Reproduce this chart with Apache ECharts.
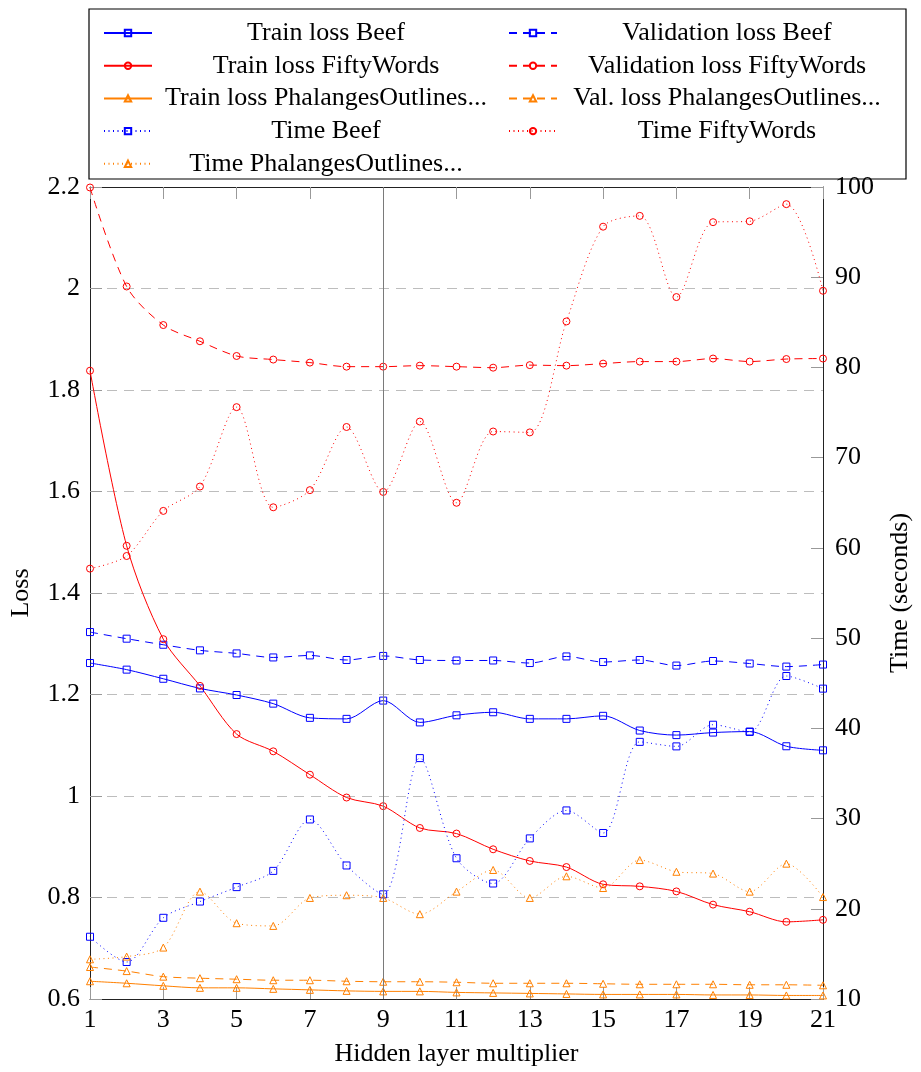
<!DOCTYPE html>
<html lang="en">
<head>
    <meta charset="utf-8"/>
    <title>Loss and time vs hidden layer multiplier</title>
    <script src="https://cdn.jsdelivr.net/npm/echarts@6/dist/echarts.min.js"></script>
    <style>
        body { margin: 0; background: #fff; }
        #main { width: 921px; height: 1072px; }
    </style>
</head>
<body>
<div id="main"></div>
<script>
    // x categories (hidden layer multiplier)
    var xCats = ['1', '2', '3', '4', '5', '6', '7', '8', '9', '10', '11', '12', '13', '14', '15', '16', '17', '18', '19', '20', '21'];

    // loss values (left axis)
    var trainLossBeef = [1.262, 1.249, 1.231, 1.212, 1.199, 1.182, 1.154, 1.152, 1.188, 1.145, 1.159, 1.165, 1.152, 1.152, 1.158, 1.129, 1.120, 1.125, 1.127, 1.098, 1.090];
    var valLossBeef = [1.323, 1.310, 1.298, 1.287, 1.281, 1.273, 1.277, 1.268, 1.276, 1.268, 1.267, 1.267, 1.262, 1.275, 1.264, 1.268, 1.257, 1.266, 1.261, 1.255, 1.259];
    var trainLossFifty = [1.838, 1.493, 1.309, 1.217, 1.122, 1.088, 1.042, 0.997, 0.980, 0.937, 0.926, 0.895, 0.872, 0.860, 0.826, 0.822, 0.812, 0.786, 0.772, 0.752, 0.756];
    var valLossFifty = [2.199, 2.004, 1.928, 1.896, 1.867, 1.860, 1.854, 1.846, 1.846, 1.848, 1.846, 1.844, 1.849, 1.848, 1.852, 1.856, 1.856, 1.862, 1.856, 1.861, 1.862];
    var trainLossPhal = [0.635, 0.631, 0.626, 0.622, 0.622, 0.620, 0.618, 0.616, 0.615, 0.615, 0.613, 0.612, 0.611, 0.610, 0.609, 0.609, 0.609, 0.608, 0.608, 0.607, 0.607];
    var valLossPhal = [0.663, 0.655, 0.644, 0.641, 0.639, 0.637, 0.637, 0.635, 0.634, 0.634, 0.633, 0.631, 0.631, 0.631, 0.630, 0.629, 0.629, 0.629, 0.628, 0.628, 0.627];

    // time values in seconds (right axis)
    var timeBeef = [16.9, 14.1, 19.0, 20.8, 22.4, 24.2, 29.9, 24.8, 21.6, 36.7, 25.6, 22.8, 27.8, 30.9, 28.4, 38.5, 38.0, 40.4, 39.6, 45.8, 44.4];
    var timeFifty = [57.7, 59.1, 64.1, 66.8, 75.6, 64.5, 66.4, 73.4, 66.2, 74.0, 65.0, 72.9, 72.8, 85.1, 95.6, 96.8, 87.8, 96.1, 96.2, 98.1, 88.5];
    var timePhal = [14.4, 14.7, 15.7, 21.9, 18.4, 18.1, 21.2, 21.5, 21.2, 19.4, 21.9, 24.3, 21.2, 23.6, 22.3, 25.4, 24.1, 23.9, 21.9, 25.0, 21.3];

    var legendLeft = ['Train loss Beef', 'Train loss FiftyWords', 'Train loss PhalangesOutlines...', 'Time Beef', 'Time PhalangesOutlines...'];
    var legendRight = ['Validation loss Beef', 'Validation loss FiftyWords', 'Val. loss PhalangesOutlines...', 'Time FiftyWords'];

    var BLUE = '#0000ff', RED = '#ff0000', ORANGE = '#ff8000';
    var FONT = 'Liberation Serif';
    var DASH = [8, 6], DOT = [1, 3.5];

    function mkSeries(name, data, color, symbol, dash, yIndex) {
        return {
            name: name,
            type: 'line',
            data: data,
            yAxisIndex: yIndex,
            smooth: 0.3,
            symbol: symbol,
            symbolSize: 7,
            showAllSymbol: true,
            lineStyle: {color: color, width: 1, type: dash},
            itemStyle: {color: 'none', borderColor: color, borderWidth: 1},
            emphasis: {disabled: true}
        };
    }

    var series = [
        mkSeries('Train loss Beef', trainLossBeef, BLUE, 'rect', 'solid', 0),
        mkSeries('Validation loss Beef', valLossBeef, BLUE, 'rect', DASH, 0),
        mkSeries('Train loss FiftyWords', trainLossFifty, RED, 'circle', 'solid', 0),
        mkSeries('Validation loss FiftyWords', valLossFifty, RED, 'circle', DASH, 0),
        mkSeries('Train loss PhalangesOutlines...', trainLossPhal, ORANGE, 'triangle', 'solid', 0),
        mkSeries('Val. loss PhalangesOutlines...', valLossPhal, ORANGE, 'triangle', DASH, 0),
        mkSeries('Time Beef', timeBeef, BLUE, 'rect', DOT, 1),
        mkSeries('Time FiftyWords', timeFifty, RED, 'circle', DOT, 1),
        mkSeries('Time PhalangesOutlines...', timePhal, ORANGE, 'triangle', DOT, 1)
    ];

    // vertical marker at x = 9
    series[0].markLine = {
        silent: true,
        symbol: 'none',
        label: {show: false},
        lineStyle: {color: '#7a7a7a', width: 1, type: 'solid'},
        data: [{xAxis: '9'}]
    };

    function mkLegend(names, left, colWidth) {
        return {
            orient: 'vertical',
            left: left,
            top: 15,
            itemWidth: 48,
            itemHeight: 8,
            itemGap: 6.7,
            selectedMode: false,
            data: names,
            formatter: function (name) {
                return '{c|' + name + '}';
            },
            textStyle: {
                fontFamily: FONT,
                fontSize: 26,
                color: '#000',
                rich: {c: {width: colWidth, align: 'center', fontFamily: FONT, fontSize: 26, lineHeight: 26}}
            }
        };
    }

    var axisLineStyle = {lineStyle: {color: '#222', width: 1}};
    var tickStyle = {show: true, inside: true, length: 12, lineStyle: {color: '#999', width: 1}};
    var labelStyle = {fontFamily: FONT, fontSize: 26, color: '#000'};

    var chart = echarts.init(document.getElementById('main'));
    var option = {
        animation: false,
        backgroundColor: '#fff',
        grid: {left: 89, right: 95, top: 187, bottom: 68, containLabel: false},
        legend: [mkLegend(legendLeft, 98, 338), mkLegend(legendRight, 503, 330)],
        graphic: [{
            type: 'rect',
            shape: {x: 89, y: 9, width: 817, height: 170},
            style: {fill: 'none', stroke: '#000', lineWidth: 1.2},
            silent: true
        }],
        xAxis: [{
            type: 'category',
            data: xCats,
            boundaryGap: false,
            position: 'bottom',
            axisLine: axisLineStyle,
            axisTick: Object.assign({interval: 1, alignWithLabel: true}, tickStyle),
            axisLabel: Object.assign({interval: 1, margin: 8}, labelStyle),
            splitLine: {show: false},
            name: 'Hidden layer multiplier',
            nameLocation: 'middle',
            nameGap: 42,
            nameTextStyle: labelStyle
        }, {
            type: 'category',
            data: xCats,
            boundaryGap: false,
            position: 'top',
            axisLine: axisLineStyle,
            axisTick: Object.assign({interval: 1}, tickStyle),
            axisLabel: {show: false},
            splitLine: {show: false}
        }],
        yAxis: [{
            type: 'value',
            position: 'left',
            min: 0.6,
            max: 2.2,
            interval: 0.2,
            axisLine: Object.assign({show: true}, axisLineStyle),
            axisTick: tickStyle,
            axisLabel: Object.assign({margin: 10}, labelStyle),
            splitLine: {show: true, lineStyle: {color: '#bdbdbd', width: 1, type: [10, 7]}},
            name: 'Loss',
            nameLocation: 'middle',
            nameRotate: 90,
            nameGap: 56,
            nameTextStyle: labelStyle
        }, {
            type: 'value',
            position: 'right',
            min: 10,
            max: 100,
            interval: 10,
            axisLine: Object.assign({show: true}, axisLineStyle),
            axisTick: tickStyle,
            axisLabel: Object.assign({margin: 12}, labelStyle),
            splitLine: {show: false},
            name: 'Time (seconds)',
            nameLocation: 'middle',
            nameRotate: 90,
            nameGap: 64,
            nameTextStyle: labelStyle
        }],
        series: series
    };
    chart.setOption(option);
</script>
</body>
</html>
